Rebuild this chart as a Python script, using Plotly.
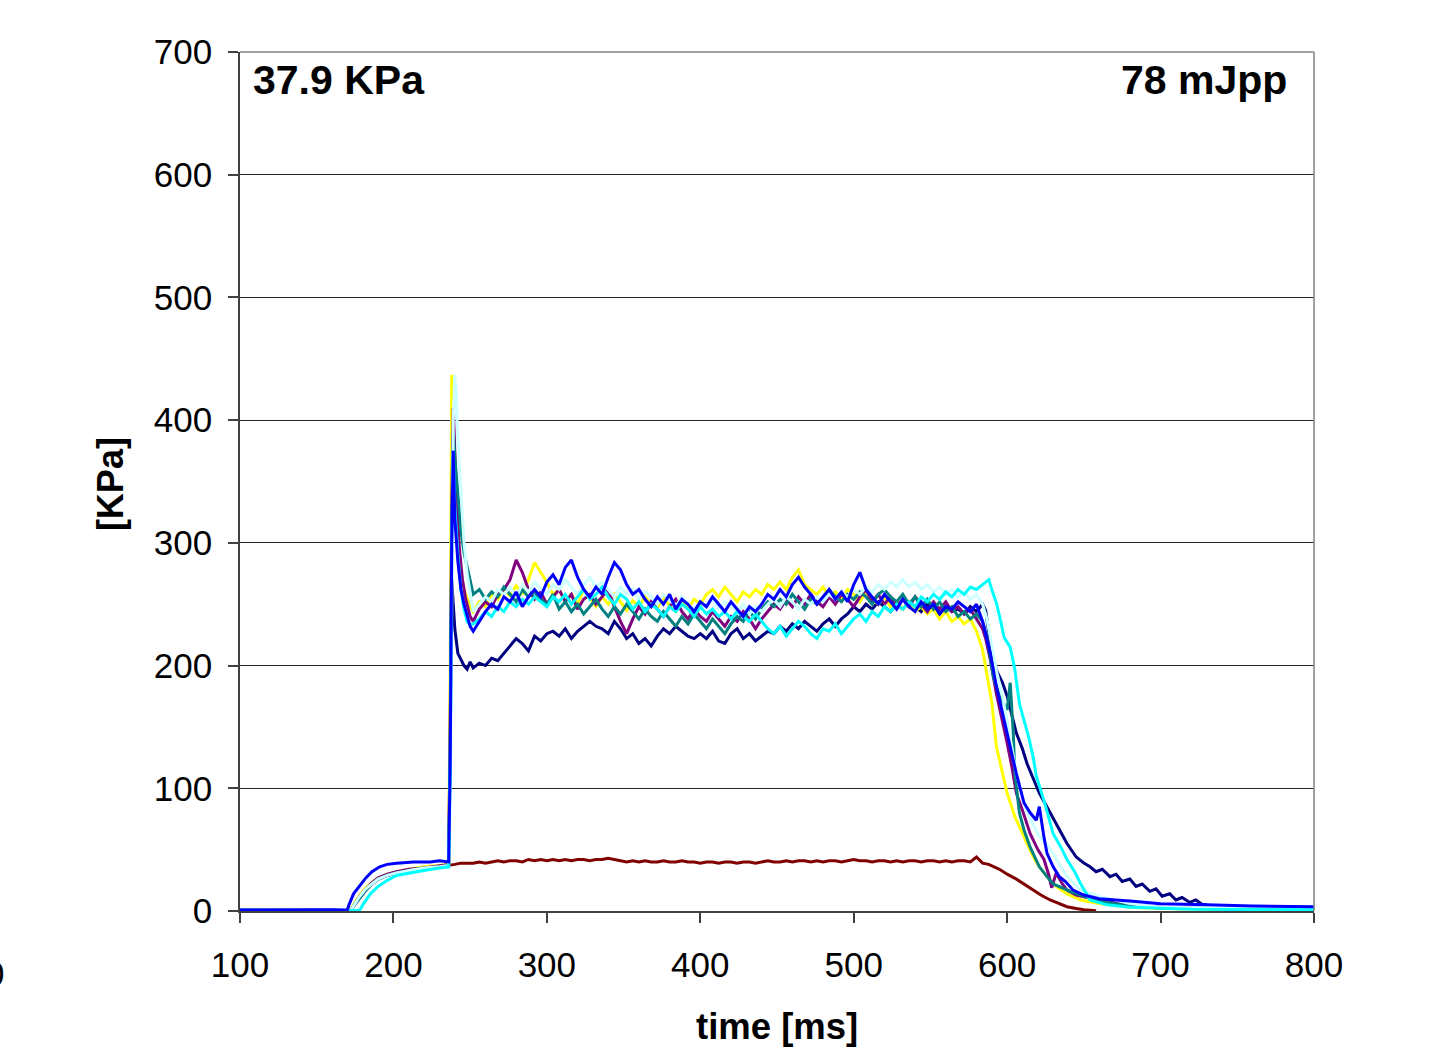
import plotly.graph_objects as go

# ---- pressure traces (KPa) vs time (ms) ----
# shared plateau time grid, 252 .. 584 ms every 4 ms
t_plateau = list(range(252, 585, 4))

# -- yellow --
t_yellow_pre = [100, 140, 170, 172, 174, 178, 182, 186, 190, 196, 202, 210, 220, 230, 236, 237, 238, 239, 240, 242, 244, 246, 248, 250]
v_yellow_pre = [0.6, 0.8, 0.6, 0.5, 5, 13, 19, 23, 27, 30, 32, 34, 36, 37, 38, 200, 437, 390, 340, 300, 275, 262, 254, 248]
v_yellow_plateau = [244, 252, 248, 258, 254, 262, 257, 265, 258, 270,
                    284, 276, 268, 258, 262, 252, 258, 250, 262, 255,
                    248, 256, 250, 258, 252, 245, 253, 248, 256, 250,
                    247, 255, 249, 244, 252, 246, 254, 250, 258, 262,
                    256, 264, 258, 252, 260, 256, 262, 258, 266, 262,
                    268, 262, 272, 278, 266, 262, 258, 264, 256, 260,
                    254, 262, 258, 252, 260, 254, 250, 256, 248, 252,
                    246, 252, 244, 248, 242, 246, 238, 244, 236, 240,
                    234, 238, 228, 213]
t_yellow_post = [588, 590, 593, 596, 600, 605, 609, 613, 617, 621, 626, 632, 639, 648, 660, 680, 700, 750, 800]
v_yellow_post = [185, 170, 134, 118, 96, 77, 66, 55, 44, 36, 28, 20, 14, 9, 6, 3, 2, 1.2, 0.8]

# -- purple --
t_purple_pre = [100, 140, 170, 172, 174, 178, 182, 186, 190, 196, 202, 210, 220, 230, 236, 237, 238, 239, 240, 241, 243, 245, 247, 250]
v_purple_pre = [0.6, 0.8, 0.6, 0.5, 4, 12, 18, 23, 27, 30, 32, 34, 35, 37, 38, 150, 330, 410, 380, 340, 295, 270, 255, 240]
v_purple_plateau = [236, 246, 252, 248, 258, 262, 270, 286, 276, 262,
                    254, 260, 250, 256, 262, 252, 258, 246, 254, 258,
                    250, 256, 262, 248, 236, 226, 238, 248, 242, 252,
                    246, 240, 248, 254, 244, 238, 246, 240, 236, 244,
                    238, 232, 240, 236, 244, 238, 230, 238, 244, 250,
                    246, 254, 248, 256, 250, 258, 252, 248, 256, 250,
                    258, 254, 248, 256, 262, 252, 258, 250, 256, 248,
                    254, 248, 256, 250, 244, 252, 246, 252, 244, 248,
                    242, 246, 238, 230]
t_purple_post = [586, 589, 593, 597, 600, 603, 606, 610, 615, 620, 624, 627, 629, 632, 636, 639, 645, 660, 680, 700, 750, 800]
v_purple_post = [222, 205, 177, 155, 137, 118, 96, 82, 63, 50, 42, 30, 19, 31, 22, 17, 13, 9, 5, 3, 1.5, 1]

# -- teal --
t_teal_pre = [100, 140, 170, 172, 174, 178, 182, 186, 190, 196, 202, 210, 220, 230, 236, 237, 238, 239, 240, 242, 244, 246, 248, 250]
v_teal_pre = [0.6, 0.8, 0.6, 0.5, 4, 11, 17, 22, 26, 29, 31, 33, 35, 36, 37, 120, 300, 390, 370, 340, 310, 292, 280, 268]
v_teal_plateau = [258, 262, 254, 260, 256, 264, 258, 252, 262, 256,
                  260, 254, 250, 258, 246, 252, 244, 250, 242, 248,
                  254, 246, 240, 248, 242, 250, 244, 238, 246, 240,
                  236, 244, 238, 232, 240, 234, 242, 236, 230, 238,
                  232, 226, 234, 240, 236, 244, 238, 246, 252, 248,
                  254, 250, 258, 252, 246, 254, 250, 256, 262, 256,
                  252, 258, 254, 260, 256, 250, 258, 262, 256, 252,
                  258, 250, 256, 248, 254, 246, 252, 244, 248, 240,
                  244, 238, 242, 236]
t_teal_post = [587, 591, 595, 600, 602, 604, 605, 608, 611, 615, 621, 626, 630, 643, 660, 680, 700, 750, 800]
v_teal_post = [222, 191, 175, 164, 186, 145, 112, 80, 66, 52, 36, 28, 22, 15, 8, 4, 2.5, 1.5, 1]

# -- light cyan --
t_lcyan_pre = [100, 140, 170, 172, 174, 178, 182, 186, 190, 196, 202, 210, 220, 230, 236, 237, 238, 239, 240, 241, 242, 244, 246, 248, 250]
v_lcyan_pre = [0.6, 0.8, 0.6, 0.5, 4, 12, 18, 22, 26, 29, 31, 33, 35, 36, 37, 90, 250, 400, 437, 420, 384, 340, 300, 275, 260]
v_lcyan_plateau = [244, 250, 256, 252, 262, 258, 264, 256, 266, 260,
                   268, 262, 258, 266, 262, 270, 264, 258, 266, 272,
                   264, 268, 262, 256, 264, 258, 262, 254, 260, 256,
                   250, 258, 254, 248, 256, 250, 246, 252, 248, 254,
                   246, 252, 248, 244, 250, 242, 248, 244, 250, 254,
                   248, 256, 252, 246, 254, 250, 256, 252, 258, 254,
                   260, 256, 262, 258, 264, 260, 266, 262, 268, 264,
                   270, 264, 268, 262, 266, 260, 264, 258, 262, 256,
                   260, 254, 258, 250]
t_lcyan_post = [587, 590, 593, 597, 600, 603, 606, 610, 613, 617, 621, 626, 630, 635, 639, 644, 648, 660, 680, 700, 750, 800]
v_lcyan_post = [237, 216, 196, 175, 156, 134, 112, 94, 80, 70, 61, 54, 47, 36, 28, 22, 17, 12, 6, 3, 2, 1.5]

# -- cyan --
t_cyan_pre = [100, 140, 170, 178, 180, 185, 190, 196, 202, 210, 220, 230, 236, 237, 238, 239, 240, 242, 244, 246, 248, 250]
v_cyan_pre = [0.6, 0.8, 0.6, 0.5, 5, 14, 20, 25, 29, 31, 33, 35, 36, 120, 300, 375, 330, 290, 262, 246, 236, 233]
v_cyan_plateau = [234, 238, 244, 240, 248, 244, 252, 248, 254, 250,
                  256, 252, 248, 256, 252, 258, 250, 256, 262, 254,
                  258, 264, 256, 250, 258, 254, 246, 252, 244, 250,
                  246, 240, 248, 244, 250, 246, 240, 248, 242, 246,
                  240, 244, 238, 244, 240, 236, 242, 236, 230, 226,
                  232, 224, 230, 236, 232, 226, 222, 230, 228, 234,
                  226, 232, 238, 242, 236, 244, 240, 248, 244, 250,
                  246, 252, 248, 256, 252, 258, 254, 260, 256, 262,
                  258, 264, 262, 266]
t_cyan_post = [588, 590, 593, 596, 598, 602, 605, 608, 611, 614, 617, 619, 624, 627, 630, 635, 639, 644, 648, 654, 665, 680, 720, 800]
v_cyan_post = [270, 262, 251, 235, 223, 215, 197, 169, 155, 142, 125, 110, 90, 76, 63, 52, 42, 32, 22, 9, 5, 3, 1.5, 1]

# -- navy --
t_navy_pre = [100, 140, 170, 172, 174, 178, 182, 186, 190, 196, 202, 210, 220, 230, 236, 237, 238, 239, 240, 242, 244, 246, 248, 250]
v_navy_pre = [0.6, 0.8, 0.6, 0.5, 4, 11, 17, 22, 26, 29, 31, 33, 35, 36, 37, 150, 271, 250, 230, 210, 205, 200, 197, 203]
v_navy_plateau = [198, 202, 200, 206, 204, 210, 216, 222, 218, 212,
                  224, 220, 226, 228, 224, 230, 222, 228, 232, 236,
                  232, 230, 226, 236, 230, 222, 226, 218, 222, 216,
                  224, 230, 226, 232, 228, 224, 222, 226, 222, 228,
                  220, 218, 226, 230, 222, 226, 220, 224, 228, 226,
                  232, 228, 234, 230, 236, 232, 228, 234, 238, 232,
                  238, 242, 248, 244, 250, 246, 252, 248, 244, 250,
                  246, 252, 248, 244, 250, 246, 242, 248, 244, 246,
                  242, 248, 244, 250]
t_navy_post = [586, 589, 593, 597, 600, 603, 606, 610, 613, 617, 621, 625, 628, 634, 639, 645, 650,
               654, 658, 662, 667, 671, 675, 680, 684, 688, 693, 697, 701, 706, 710, 714, 719, 723, 727, 730]
v_navy_post = [245, 218, 196, 186, 175, 160, 145, 132, 120, 108, 96, 87, 80, 66, 55, 44, 39,
               36, 32, 34, 28, 30, 24, 26, 20, 22, 16, 18, 12, 14, 9, 11, 7, 9, 5.5, 5]

# -- blue --
t_blue_pre = [100, 120, 140, 160, 170, 171, 174, 178, 182, 186, 191, 196, 202, 213, 224, 230, 236, 237, 238, 239, 240, 242, 244, 246, 248, 250]
v_blue_pre = [0.8, 1, 0.8, 1, 0.8, 5, 14, 21, 27, 32, 36, 38, 39, 40, 40, 41, 40, 120, 300, 375, 320, 285, 262, 250, 240, 232]
v_blue_plateau = [228, 236, 244, 250, 246, 256, 252, 260, 248, 256,
                  262, 256, 268, 274, 266, 280, 286, 272, 262, 256,
                  264, 258, 272, 284, 278, 266, 258, 262, 254, 248,
                  256, 250, 258, 246, 254, 250, 244, 252, 248, 256,
                  250, 244, 252, 246, 240, 248, 244, 250, 258, 254,
                  262, 256, 266, 272, 264, 258, 250, 256, 262, 254,
                  260, 252, 266, 276, 262, 256, 250, 258, 252, 246,
                  254, 248, 244, 252, 246, 250, 242, 248, 246, 252,
                  248, 244, 250, 236]
t_blue_post = [586, 589, 593, 598, 602, 606, 611, 615, 619, 621, 624, 626, 630, 634, 638, 643, 650, 660, 682, 700, 730, 760, 800]
v_blue_post = [226, 210, 183, 156, 134, 112, 88, 80, 74, 85, 60, 47, 36, 28, 24, 17, 13, 10, 8, 6, 5, 4, 3.5]

# -- dark red (no spike) --
t_red_pre = [100, 140, 170, 172, 174, 178, 182, 186, 190, 196, 202, 210, 220, 230, 236, 240, 244, 248]
v_red_pre = [0.6, 0.8, 0.6, 0.5, 4, 12, 18, 22, 26, 29, 31, 33, 35, 36, 37, 38, 39, 39]
v_red_plateau = [39, 40, 39, 40, 41, 40, 41, 41, 40, 42,
                 41, 42, 41, 42, 41, 42, 41, 42, 42, 41,
                 42, 42, 43, 42, 41, 40, 41, 40, 41, 40,
                 40, 41, 40, 40, 41, 40, 40, 39, 40, 40,
                 39, 40, 40, 39, 40, 40, 39, 40, 41, 40,
                 40, 41, 40, 41, 41, 40, 41, 40, 41, 41,
                 40, 41, 42, 41, 41, 40, 41, 41, 40, 41,
                 40, 41, 41, 40, 41, 41, 40, 41, 40, 41,
                 41, 40, 44, 39]
t_red_post = [588, 595, 600, 606, 612, 617, 622, 628, 634, 639, 645, 650, 658]
v_red_post = [38, 34, 30, 26, 21, 17, 13, 9, 6, 3.5, 2, 1, 0.3]

series = [
    ("#800000", t_red_pre, v_red_pre, v_red_plateau, t_red_post, v_red_post),
    ("#000080", t_navy_pre, v_navy_pre, v_navy_plateau, t_navy_post, v_navy_post),
    ("#FFFF00", t_yellow_pre, v_yellow_pre, v_yellow_plateau, t_yellow_post, v_yellow_post),
    ("#800080", t_purple_pre, v_purple_pre, v_purple_plateau, t_purple_post, v_purple_post),
    ("#008080", t_teal_pre, v_teal_pre, v_teal_plateau, t_teal_post, v_teal_post),
    ("#CCFFFF", t_lcyan_pre, v_lcyan_pre, v_lcyan_plateau, t_lcyan_post, v_lcyan_post),
    ("#00FFFF", t_cyan_pre, v_cyan_pre, v_cyan_plateau, t_cyan_post, v_cyan_post),
    ("#0000FF", t_blue_pre, v_blue_pre, v_blue_plateau, t_blue_post, v_blue_post),
]

fig = go.Figure()
for color, tp, vp, vpl, tq, vq in series:
    fig.add_trace(go.Scatter(
        x=tp + t_plateau + tq,
        y=vp + vpl + vq,
        mode="lines",
        line=dict(color=color, width=3),
        showlegend=False,
        hoverinfo="skip",
    ))

FONT = "Liberation Sans, Arial, sans-serif"
AXIS = "#404040"

fig.update_layout(
    width=1439, height=1059,
    margin=dict(l=240, r=125, t=52, b=148),
    paper_bgcolor="white", plot_bgcolor="white",
    font=dict(family=FONT, size=35, color="black"),
    xaxis=dict(
        range=[100, 800], tick0=100, dtick=100,
        showgrid=False, zeroline=False,
        showline=True, linecolor=AXIS, linewidth=1.5,
        ticks="outside", ticklen=10, tickcolor=AXIS, tickwidth=1.5,
        tickfont=dict(family=FONT, size=35, color="black"),
        ticklabelstandoff=12,
    ),
    yaxis=dict(
        range=[0, 700], tick0=0, dtick=100,
        showgrid=True, gridcolor="#222222", gridwidth=1,
        zeroline=False,
        showline=True, linecolor=AXIS, linewidth=1.5,
        ticks="outside", ticklen=10, tickcolor=AXIS, tickwidth=1.5,
        tickfont=dict(family=FONT, size=35, color="black"),
        ticklabelstandoff=9,
    ),
    shapes=[
        # plot area frame (top and right edges)
        dict(type="line", xref="paper", yref="paper", x0=0, x1=1, y0=1, y1=1,
             line=dict(color="#808080", width=1.5), layer="above"),
        dict(type="line", xref="paper", yref="paper", x0=1, x1=1, y0=0, y1=1,
             line=dict(color="#808080", width=1.5), layer="above"),
    ],
    annotations=[
        dict(text="<b>37.9 KPa</b>", xref="paper", yref="paper", x=0.0105, y=0.967,
             xanchor="left", yanchor="middle", showarrow=False,
             font=dict(family=FONT, size=41, color="black")),
        dict(text="<b>78 mJpp</b>", xref="paper", yref="paper", x=0.977, y=0.967,
             xanchor="right", yanchor="middle", showarrow=False,
             font=dict(family=FONT, size=41, color="black")),
        dict(text="<b>time [ms]</b>", xref="paper", yref="paper", x=0.5, y=-0.135,
             xanchor="center", yanchor="middle", showarrow=False,
             font=dict(family=FONT, size=36.5, color="black")),
        dict(text="<b>[KPa]</b>", xref="paper", yref="paper", x=-0.121, y=0.497,
             xanchor="center", yanchor="middle", showarrow=False, textangle=-90,
             font=dict(family=FONT, size=36, color="black")),
        dict(text="800", xref="paper", yref="paper", x=-0.2179, y=-0.0722,
             xanchor="right", yanchor="middle", showarrow=False,
             font=dict(family=FONT, size=35, color="black")),
    ],
)

fig.write_html("out.html")
